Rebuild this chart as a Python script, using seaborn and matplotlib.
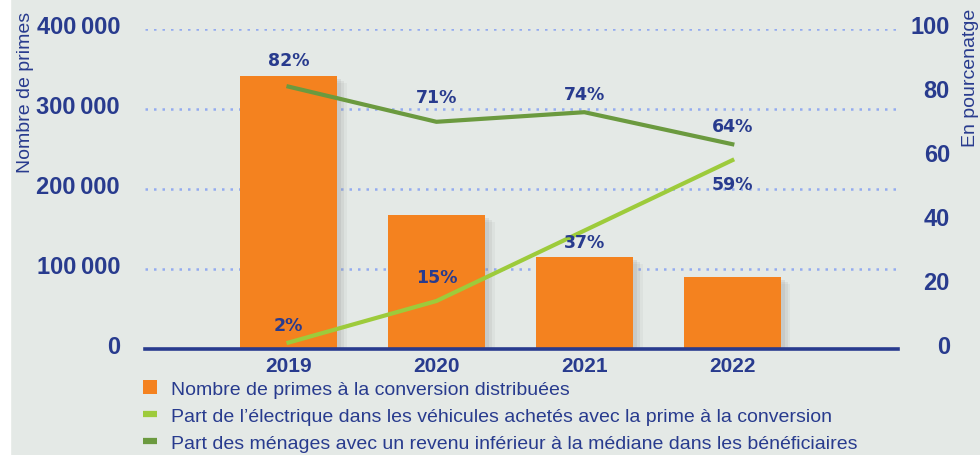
import numpy as np
import pandas as pd
import matplotlib
matplotlib.use('Agg')
import matplotlib.pyplot as plt
import matplotlib.patheffects as pe
from matplotlib.patches import Patch, Rectangle
from matplotlib.lines import Line2D
from matplotlib.transforms import ScaledTranslation
import seaborn as sns

# data
years = ['2019', '2020', '2021', '2022']
primes = [341000, 167000, 115000, 90000]
part_electrique = [2, 15, 37, 59]
part_menages = [82, 71, 74, 64]
left_ticks = [0, 100000, 200000, 300000, 400000]
right_ticks = [0, 20, 40, 60, 80, 100]
legend_labels = [
    'Nombre de primes à la conversion distribuées',
    "Part de l\u2019électrique dans les véhicules achetés avec la prime à la conversion",
    'Part des ménages avec un revenu inférieur à la médiane dans les bénéficiaires',
]

NAVY = '#283b8e'
ORANGE = '#f4821f'
LIGHT_GREEN = '#9dcb3b'
DARK_GREEN = '#6b9a3f'
BG = '#e4e9e6'
GRID = '#93abf0'

plt.rcParams['font.family'] = ['Liberation Sans', 'DejaVu Sans']

df = pd.DataFrame({
    'pos': np.arange(len(years)),
    'annee': years,
    'primes': primes,
    'elec': part_electrique,
    'menages': part_menages,
})

fig = plt.figure(figsize=(9.8, 4.56), dpi=100, facecolor=BG)
fig.add_artist(Rectangle((0, 0), 10 / 980, 1, transform=fig.transFigure,
                         color='white', zorder=0))

ax = fig.add_axes([145 / 980, 1 - 350 / 456, (898 - 145) / 980, 320 / 456])
ax.set_facecolor('none')

sns.barplot(data=df, x='pos', y='primes', native_scale=True, orient='x',
            color=ORANGE, saturation=1, width=0.655, ax=ax, zorder=3)
# soft shadow to the lower right of each bar
for bar in ax.patches:
    bar.set_path_effects([
        pe.SimplePatchShadow(offset=(7, -5), shadow_rgbFace='#8a8a8a', alpha=0.08),
        pe.SimplePatchShadow(offset=(5, -3.5), shadow_rgbFace='#8a8a8a', alpha=0.12),
        pe.SimplePatchShadow(offset=(3, -2), shadow_rgbFace='#8a8a8a', alpha=0.15),
        pe.Normal(),
    ])

ax.set_xlim(-0.97, 4.12)
ax.set_ylim(0, 400000)
ax.set_yticks(left_ticks)
ax.set_yticklabels([f'{v:,}'.replace(',', '\u2009') for v in left_ticks])
ax.set_xticks(df['pos'])
ax.set_xticklabels(years)
ax.set_xlabel('')
ax.set_ylabel('')
ax.yaxis.grid(True, linestyle=(0, (1, 2.4)), color=GRID, lw=1.8)
ax.set_axisbelow(True)
ax.tick_params(axis='y', length=0, pad=18, labelsize=17, labelcolor=NAVY)
ax.tick_params(axis='x', length=0, pad=5, labelsize=15, labelcolor=NAVY)
for lab in ax.get_yticklabels() + ax.get_xticklabels():
    lab.set_fontweight('bold')
for s in ax.spines.values():
    s.set_visible(False)

ax2 = ax.twinx()
sns.lineplot(data=df, x='pos', y='menages', color=DARK_GREEN, lw=3, ax=ax2)
sns.lineplot(data=df, x='pos', y='elec', color=LIGHT_GREEN, lw=3, ax=ax2)
ax2.set_ylim(0, 100)
ax2.set_yticks(right_ticks)
ax2.set_ylabel('')
ax2.tick_params(axis='y', length=0, pad=37.4, labelsize=17, labelcolor=NAVY)
for lab in ax2.get_yticklabels():
    lab.set_fontweight('bold')
    lab.set_horizontalalignment('right')
for s in ax2.spines.values():
    s.set_visible(False)
ax2.axhline(0, color=NAVY, lw=2.6, zorder=5, clip_on=False)

# nudge tick labels up a little, as in the reference
shift = ScaledTranslation(0, 5 / 100, fig.dpi_scale_trans)
for lab in ax.get_yticklabels() + ax2.get_yticklabels():
    lab.set_transform(lab.get_transform() + shift)

# value labels
men_dy = [19, 18, 13, 13]
elec_dy = [13, 17, -8, -17]
for i, v in enumerate(part_menages):
    ax2.annotate(f'{v}%', (i, v), xytext=(0, men_dy[i]), textcoords='offset points',
                 ha='center', va='center', color=NAVY, fontsize=12.5,
                 fontweight='bold', family='DejaVu Sans')
for i, v in enumerate(part_electrique):
    ax2.annotate(f'{v}%', (i, v), xytext=(0, elec_dy[i]), textcoords='offset points',
                 ha='center', va='center', color=NAVY, fontsize=12.5,
                 fontweight='bold', family='DejaVu Sans')

# axis titles
fig.text(25 / 980, 1 - 12 / 456, 'Nombre de primes', rotation=90, ha='center',
         va='top', color=NAVY, fontsize=14)
fig.text(970 / 980, 1 - 9 / 456, 'En pourcenatge', rotation=90, ha='center',
         va='top', color=NAVY, fontsize=14)

handles = [
    Patch(facecolor=ORANGE, edgecolor='none'),
    Line2D([], [], color=LIGHT_GREEN, lw=4.5, solid_capstyle='butt'),
    Line2D([], [], color=DARK_GREEN, lw=4.5, solid_capstyle='butt'),
]
fig.legend(handles, legend_labels, loc='upper left',
           bbox_to_anchor=(143 / 980, 1 - 381 / 456), frameon=False,
           fontsize=14, labelcolor=NAVY, handlelength=0.7, handleheight=0.7,
           handletextpad=0.75, labelspacing=0.5, borderpad=0, borderaxespad=0)

fig.savefig('out.png', dpi=100, facecolor=BG)
